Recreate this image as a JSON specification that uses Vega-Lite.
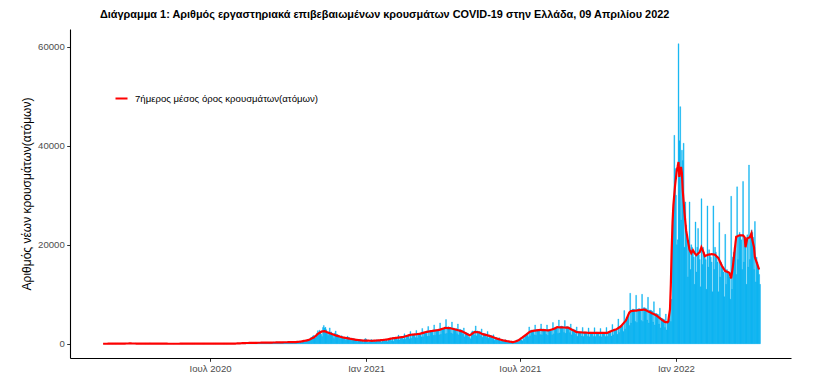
{
"$schema": "https://vega.github.io/schema/vega-lite/v6.json",
"width": 721, "height": 329,
"autosize": "none",
"padding": {"left": 70, "top": 29, "right": 33, "bottom": 16},
"background": "white",
"config": {"view": {"stroke": null}, "font": "Liberation Sans"},
"title": {"text": "Διάγραμμα 1: Αριθμός εργαστηριακά επιβεβαιωμένων κρουσμάτων COVID-19 στην Ελλάδα, 09 Απριλίου 2022", "anchor": "start", "frame": "group", "dx": 30, "fontSize": 10.9, "fontWeight": "bold", "color": "black", "offset": 9},
"datasets": {
"daily": [
{"d":"2020-02-26","n":1},{"d":"2020-02-27","n":1},{"d":"2020-02-28","n":2},{"d":"2020-02-29","n":0},
{"d":"2020-03-01","n":3},{"d":"2020-03-02","n":0},{"d":"2020-03-03","n":0},{"d":"2020-03-04","n":2},{"d":"2020-03-05","n":22},{"d":"2020-03-06","n":14},{"d":"2020-03-07","n":21},{"d":"2020-03-08","n":7},{"d":"2020-03-09","n":11},{"d":"2020-03-10","n":16},{"d":"2020-03-11","n":10},{"d":"2020-03-12","n":18},{"d":"2020-03-13","n":73},{"d":"2020-03-14","n":38},{"d":"2020-03-15","n":35},{"d":"2020-03-16","n":21},{"d":"2020-03-17","n":56},{"d":"2020-03-18","n":31},{"d":"2020-03-19","n":46},{"d":"2020-03-20","n":31},{"d":"2020-03-21","n":35},{"d":"2020-03-22","n":94},{"d":"2020-03-23","n":71},{"d":"2020-03-24","n":48},{"d":"2020-03-25","n":48},{"d":"2020-03-26","n":78},{"d":"2020-03-27","n":71},{"d":"2020-03-28","n":74},{"d":"2020-03-29","n":64},{"d":"2020-03-30","n":61},{"d":"2020-03-31","n":102},
{"d":"2020-04-01","n":53},{"d":"2020-04-02","n":29},{"d":"2020-04-03","n":129},{"d":"2020-04-04","n":62},{"d":"2020-04-05","n":58},{"d":"2020-04-06","n":20},{"d":"2020-04-07","n":62},{"d":"2020-04-08","n":73},{"d":"2020-04-09","n":38},{"d":"2020-04-10","n":20},{"d":"2020-04-11","n":40},{"d":"2020-04-12","n":43},{"d":"2020-04-13","n":19},{"d":"2020-04-14","n":25},{"d":"2020-04-15","n":25},{"d":"2020-04-16","n":34},{"d":"2020-04-17","n":16},{"d":"2020-04-18","n":11},{"d":"2020-04-19","n":15},{"d":"2020-04-20","n":156},{"d":"2020-04-21","n":87},{"d":"2020-04-22","n":23},{"d":"2020-04-23","n":16},{"d":"2020-04-24","n":10},{"d":"2020-04-25","n":15},{"d":"2020-04-26","n":17},{"d":"2020-04-27","n":9},{"d":"2020-04-28","n":12},{"d":"2020-04-29","n":14},{"d":"2020-04-30","n":12},
{"d":"2020-05-01","n":11},{"d":"2020-05-02","n":10},{"d":"2020-05-03","n":3},{"d":"2020-05-04","n":0},{"d":"2020-05-05","n":6},{"d":"2020-05-06","n":12},{"d":"2020-05-07","n":13},{"d":"2020-05-08","n":15},{"d":"2020-05-09","n":8},{"d":"2020-05-10","n":4},{"d":"2020-05-11","n":4},{"d":"2020-05-12","n":14},{"d":"2020-05-13","n":10},{"d":"2020-05-14","n":17},{"d":"2020-05-15","n":7},{"d":"2020-05-16","n":10},{"d":"2020-05-17","n":9},{"d":"2020-05-18","n":4},{"d":"2020-05-19","n":6},{"d":"2020-05-20","n":9},{"d":"2020-05-21","n":12},{"d":"2020-05-22","n":3},{"d":"2020-05-23","n":2},{"d":"2020-05-24","n":5},{"d":"2020-05-25","n":1},{"d":"2020-05-26","n":9},{"d":"2020-05-27","n":3},{"d":"2020-05-28","n":8},{"d":"2020-05-29","n":2},{"d":"2020-05-30","n":11},{"d":"2020-05-31","n":7},
{"d":"2020-06-01","n":8},{"d":"2020-06-02","n":9},{"d":"2020-06-03","n":4},{"d":"2020-06-04","n":25},{"d":"2020-06-05","n":10},{"d":"2020-06-06","n":5},{"d":"2020-06-07","n":4},{"d":"2020-06-08","n":1},{"d":"2020-06-09","n":15},{"d":"2020-06-10","n":2},{"d":"2020-06-11","n":3},{"d":"2020-06-12","n":12},{"d":"2020-06-13","n":31},{"d":"2020-06-14","n":29},{"d":"2020-06-15","n":12},{"d":"2020-06-16","n":9},{"d":"2020-06-17","n":19},{"d":"2020-06-18","n":13},{"d":"2020-06-19","n":16},{"d":"2020-06-20","n":8},{"d":"2020-06-21","n":28},{"d":"2020-06-22","n":8},{"d":"2020-06-23","n":12},{"d":"2020-06-24","n":17},{"d":"2020-06-25","n":14},{"d":"2020-06-26","n":23},{"d":"2020-06-27","n":10},{"d":"2020-06-28","n":15},{"d":"2020-06-29","n":9},{"d":"2020-06-30","n":9},
{"d":"2020-07-01","n":20},{"d":"2020-07-02","n":7},{"d":"2020-07-03","n":16},{"d":"2020-07-04","n":20},{"d":"2020-07-05","n":19},{"d":"2020-07-06","n":8},{"d":"2020-07-07","n":25},{"d":"2020-07-08","n":21},{"d":"2020-07-09","n":12},{"d":"2020-07-10","n":19},{"d":"2020-07-11","n":27},{"d":"2020-07-12","n":35},{"d":"2020-07-13","n":17},{"d":"2020-07-14","n":22},{"d":"2020-07-15","n":19},{"d":"2020-07-16","n":21},{"d":"2020-07-17","n":16},{"d":"2020-07-18","n":17},{"d":"2020-07-19","n":30},{"d":"2020-07-20","n":15},{"d":"2020-07-21","n":23},{"d":"2020-07-22","n":28},{"d":"2020-07-23","n":33},{"d":"2020-07-24","n":19},{"d":"2020-07-25","n":31},{"d":"2020-07-26","n":38},{"d":"2020-07-27","n":21},{"d":"2020-07-28","n":25},{"d":"2020-07-29","n":36},{"d":"2020-07-30","n":57},{"d":"2020-07-31","n":42},
{"d":"2020-08-01","n":110},{"d":"2020-08-02","n":75},{"d":"2020-08-03","n":41},{"d":"2020-08-04","n":78},{"d":"2020-08-05","n":121},{"d":"2020-08-06","n":125},{"d":"2020-08-07","n":124},{"d":"2020-08-08","n":151},{"d":"2020-08-09","n":203},{"d":"2020-08-10","n":94},{"d":"2020-08-11","n":262},{"d":"2020-08-12","n":139},{"d":"2020-08-13","n":168},{"d":"2020-08-14","n":233},{"d":"2020-08-15","n":230},{"d":"2020-08-16","n":217},{"d":"2020-08-17","n":211},{"d":"2020-08-18","n":269},{"d":"2020-08-19","n":180},{"d":"2020-08-20","n":234},{"d":"2020-08-21","n":165},{"d":"2020-08-22","n":228},{"d":"2020-08-23","n":284},{"d":"2020-08-24","n":125},{"d":"2020-08-25","n":123},{"d":"2020-08-26","n":168},{"d":"2020-08-27","n":226},{"d":"2020-08-28","n":198},{"d":"2020-08-29","n":183},{"d":"2020-08-30","n":158},{"d":"2020-08-31","n":152},
{"d":"2020-09-01","n":209},{"d":"2020-09-02","n":204},{"d":"2020-09-03","n":221},{"d":"2020-09-04","n":141},{"d":"2020-09-05","n":262},{"d":"2020-09-06","n":230},{"d":"2020-09-07","n":168},{"d":"2020-09-08","n":185},{"d":"2020-09-09","n":272},{"d":"2020-09-10","n":247},{"d":"2020-09-11","n":250},{"d":"2020-09-12","n":181},{"d":"2020-09-13","n":372},{"d":"2020-09-14","n":250},{"d":"2020-09-15","n":295},{"d":"2020-09-16","n":338},{"d":"2020-09-17","n":316},{"d":"2020-09-18","n":311},{"d":"2020-09-19","n":251},{"d":"2020-09-20","n":362},{"d":"2020-09-21","n":242},{"d":"2020-09-22","n":253},{"d":"2020-09-23","n":302},{"d":"2020-09-24","n":325},{"d":"2020-09-25","n":311},{"d":"2020-09-26","n":221},{"d":"2020-09-27","n":280},{"d":"2020-09-28","n":251},{"d":"2020-09-29","n":342},{"d":"2020-09-30","n":407},
{"d":"2020-10-01","n":460},{"d":"2020-10-02","n":298},{"d":"2020-10-03","n":216},{"d":"2020-10-04","n":245},{"d":"2020-10-05","n":234},{"d":"2020-10-06","n":371},{"d":"2020-10-07","n":384},{"d":"2020-10-08","n":456},{"d":"2020-10-09","n":368},{"d":"2020-10-10","n":247},{"d":"2020-10-11","n":434},{"d":"2020-10-12","n":270},{"d":"2020-10-13","n":337},{"d":"2020-10-14","n":350},{"d":"2020-10-15","n":419},{"d":"2020-10-16","n":507},{"d":"2020-10-17","n":460},{"d":"2020-10-18","n":599},{"d":"2020-10-19","n":388},{"d":"2020-10-20","n":462},{"d":"2020-10-21","n":667},{"d":"2020-10-22","n":658},{"d":"2020-10-23","n":882},{"d":"2020-10-24","n":935},{"d":"2020-10-25","n":748},{"d":"2020-10-26","n":865},{"d":"2020-10-27","n":1259},{"d":"2020-10-28","n":1211},{"d":"2020-10-29","n":1547},{"d":"2020-10-30","n":1690},{"d":"2020-10-31","n":1494},
{"d":"2020-11-01","n":1151},{"d":"2020-11-02","n":1509},{"d":"2020-11-03","n":2166},{"d":"2020-11-04","n":2646},{"d":"2020-11-05","n":2077},{"d":"2020-11-06","n":2752},{"d":"2020-11-07","n":2448},{"d":"2020-11-08","n":1917},{"d":"2020-11-09","n":1460},{"d":"2020-11-10","n":3300},{"d":"2020-11-11","n":3700},{"d":"2020-11-12","n":3200},{"d":"2020-11-13","n":3316},{"d":"2020-11-14","n":2835},{"d":"2020-11-15","n":2198},{"d":"2020-11-16","n":1695},{"d":"2020-11-17","n":2152},{"d":"2020-11-18","n":3209},{"d":"2020-11-19","n":2311},{"d":"2020-11-20","n":2395},{"d":"2020-11-21","n":2018},{"d":"2020-11-22","n":1498},{"d":"2020-11-23","n":1044},{"d":"2020-11-24","n":2152},{"d":"2020-11-25","n":2581},{"d":"2020-11-26","n":1939},{"d":"2020-11-27","n":1881},{"d":"2020-11-28","n":1747},{"d":"2020-11-29","n":1300},{"d":"2020-11-30","n":1044},
{"d":"2020-12-01","n":1380},{"d":"2020-12-02","n":1640},{"d":"2020-12-03","n":1395},{"d":"2020-12-04","n":1336},{"d":"2020-12-05","n":1172},{"d":"2020-12-06","n":1256},{"d":"2020-12-07","n":733},{"d":"2020-12-08","n":1335},{"d":"2020-12-09","n":1531},{"d":"2020-12-10","n":1259},{"d":"2020-12-11","n":1246},{"d":"2020-12-12","n":852},{"d":"2020-12-13","n":1060},{"d":"2020-12-14","n":629},{"d":"2020-12-15","n":1108},{"d":"2020-12-16","n":1043},{"d":"2020-12-17","n":935},{"d":"2020-12-18","n":863},{"d":"2020-12-19","n":730},{"d":"2020-12-20","n":794},{"d":"2020-12-21","n":474},{"d":"2020-12-22","n":888},{"d":"2020-12-23","n":868},{"d":"2020-12-24","n":891},{"d":"2020-12-25","n":628},{"d":"2020-12-26","n":416},{"d":"2020-12-27","n":576},{"d":"2020-12-28","n":262},{"d":"2020-12-29","n":921},{"d":"2020-12-30","n":1047},{"d":"2020-12-31","n":950},
{"d":"2021-01-01","n":507},{"d":"2021-01-02","n":262},{"d":"2021-01-03","n":341},{"d":"2021-01-04","n":406},{"d":"2021-01-05","n":716},{"d":"2021-01-06","n":861},{"d":"2021-01-07","n":755},{"d":"2021-01-08","n":718},{"d":"2021-01-09","n":580},{"d":"2021-01-10","n":710},{"d":"2021-01-11","n":360},{"d":"2021-01-12","n":805},{"d":"2021-01-13","n":732},{"d":"2021-01-14","n":620},{"d":"2021-01-15","n":787},{"d":"2021-01-16","n":622},{"d":"2021-01-17","n":865},{"d":"2021-01-18","n":317},{"d":"2021-01-19","n":589},{"d":"2021-01-20","n":735},{"d":"2021-01-21","n":806},{"d":"2021-01-22","n":690},{"d":"2021-01-23","n":555},{"d":"2021-01-24","n":970},{"d":"2021-01-25","n":429},{"d":"2021-01-26","n":881},{"d":"2021-01-27","n":892},{"d":"2021-01-28","n":851},{"d":"2021-01-29","n":940},{"d":"2021-01-30","n":623},{"d":"2021-01-31","n":1250},
{"d":"2021-02-01","n":531},{"d":"2021-02-02","n":1107},{"d":"2021-02-03","n":1155},{"d":"2021-02-04","n":1108},{"d":"2021-02-05","n":1196},{"d":"2021-02-06","n":823},{"d":"2021-02-07","n":1750},{"d":"2021-02-08","n":760},{"d":"2021-02-09","n":1350},{"d":"2021-02-10","n":1450},{"d":"2021-02-11","n":1300},{"d":"2021-02-12","n":1350},{"d":"2021-02-13","n":900},{"d":"2021-02-14","n":2000},{"d":"2021-02-15","n":900},{"d":"2021-02-16","n":1500},{"d":"2021-02-17","n":1700},{"d":"2021-02-18","n":1600},{"d":"2021-02-19","n":1550},{"d":"2021-02-20","n":1000},{"d":"2021-02-21","n":2500},{"d":"2021-02-22","n":1100},{"d":"2021-02-23","n":1900},{"d":"2021-02-24","n":1950},{"d":"2021-02-25","n":1850},{"d":"2021-02-26","n":1850},{"d":"2021-02-27","n":1250},{"d":"2021-02-28","n":2700},
{"d":"2021-03-01","n":1200},{"d":"2021-03-02","n":2050},{"d":"2021-03-03","n":2100},{"d":"2021-03-04","n":2050},{"d":"2021-03-05","n":2000},{"d":"2021-03-06","n":1400},{"d":"2021-03-07","n":3100},{"d":"2021-03-08","n":1400},{"d":"2021-03-09","n":2400},{"d":"2021-03-10","n":2350},{"d":"2021-03-11","n":2300},{"d":"2021-03-12","n":2250},{"d":"2021-03-13","n":1500},{"d":"2021-03-14","n":3500},{"d":"2021-03-15","n":1550},{"d":"2021-03-16","n":2700},{"d":"2021-03-17","n":2650},{"d":"2021-03-18","n":2600},{"d":"2021-03-19","n":2550},{"d":"2021-03-20","n":1700},{"d":"2021-03-21","n":3800},{"d":"2021-03-22","n":1700},{"d":"2021-03-23","n":2800},{"d":"2021-03-24","n":2850},{"d":"2021-03-25","n":2750},{"d":"2021-03-26","n":2750},{"d":"2021-03-27","n":1800},{"d":"2021-03-28","n":4200},{"d":"2021-03-29","n":1900},{"d":"2021-03-30","n":3100},{"d":"2021-03-31","n":3150},
{"d":"2021-04-01","n":3050},{"d":"2021-04-02","n":3000},{"d":"2021-04-03","n":2000},{"d":"2021-04-04","n":4900},{"d":"2021-04-05","n":2100},{"d":"2021-04-06","n":3400},{"d":"2021-04-07","n":3450},{"d":"2021-04-08","n":3300},{"d":"2021-04-09","n":3300},{"d":"2021-04-10","n":2200},{"d":"2021-04-11","n":4400},{"d":"2021-04-12","n":2000},{"d":"2021-04-13","n":3200},{"d":"2021-04-14","n":3100},{"d":"2021-04-15","n":3000},{"d":"2021-04-16","n":3050},{"d":"2021-04-17","n":2050},{"d":"2021-04-18","n":4000},{"d":"2021-04-19","n":1800},{"d":"2021-04-20","n":2850},{"d":"2021-04-21","n":2900},{"d":"2021-04-22","n":2800},{"d":"2021-04-23","n":2700},{"d":"2021-04-24","n":1900},{"d":"2021-04-25","n":3200},{"d":"2021-04-26","n":1400},{"d":"2021-04-27","n":2200},{"d":"2021-04-28","n":2250},{"d":"2021-04-29","n":2150},{"d":"2021-04-30","n":2100},
{"d":"2021-05-01","n":1300},{"d":"2021-05-02","n":1300},{"d":"2021-05-03","n":1000},{"d":"2021-05-04","n":2300},{"d":"2021-05-05","n":2600},{"d":"2021-05-06","n":2500},{"d":"2021-05-07","n":2450},{"d":"2021-05-08","n":1700},{"d":"2021-05-09","n":3600},{"d":"2021-05-10","n":1600},{"d":"2021-05-11","n":2600},{"d":"2021-05-12","n":2500},{"d":"2021-05-13","n":2400},{"d":"2021-05-14","n":2450},{"d":"2021-05-15","n":1600},{"d":"2021-05-16","n":3000},{"d":"2021-05-17","n":1300},{"d":"2021-05-18","n":2100},{"d":"2021-05-19","n":2050},{"d":"2021-05-20","n":2000},{"d":"2021-05-21","n":1950},{"d":"2021-05-22","n":1300},{"d":"2021-05-23","n":2500},{"d":"2021-05-24","n":1100},{"d":"2021-05-25","n":1750},{"d":"2021-05-26","n":1700},{"d":"2021-05-27","n":1650},{"d":"2021-05-28","n":1600},{"d":"2021-05-29","n":1050},{"d":"2021-05-30","n":1800},{"d":"2021-05-31","n":700},
{"d":"2021-06-01","n":1250},{"d":"2021-06-02","n":1250},{"d":"2021-06-03","n":1200},{"d":"2021-06-04","n":1150},{"d":"2021-06-05","n":750},{"d":"2021-06-06","n":1200},{"d":"2021-06-07","n":500},{"d":"2021-06-08","n":850},{"d":"2021-06-09","n":850},{"d":"2021-06-10","n":800},{"d":"2021-06-11","n":780},{"d":"2021-06-12","n":500},{"d":"2021-06-13","n":800},{"d":"2021-06-14","n":300},{"d":"2021-06-15","n":580},{"d":"2021-06-16","n":560},{"d":"2021-06-17","n":540},{"d":"2021-06-18","n":520},{"d":"2021-06-19","n":330},{"d":"2021-06-20","n":550},{"d":"2021-06-21","n":200},{"d":"2021-06-22","n":380},{"d":"2021-06-23","n":400},{"d":"2021-06-24","n":380},{"d":"2021-06-25","n":420},{"d":"2021-06-26","n":300},{"d":"2021-06-27","n":800},{"d":"2021-06-28","n":380},{"d":"2021-06-29","n":700},{"d":"2021-06-30","n":750},
{"d":"2021-07-01","n":780},{"d":"2021-07-02","n":820},{"d":"2021-07-03","n":600},{"d":"2021-07-04","n":1500},{"d":"2021-07-05","n":900},{"d":"2021-07-06","n":1600},{"d":"2021-07-07","n":1750},{"d":"2021-07-08","n":1850},{"d":"2021-07-09","n":2000},{"d":"2021-07-10","n":1400},{"d":"2021-07-11","n":3400},{"d":"2021-07-12","n":1600},{"d":"2021-07-13","n":2700},{"d":"2021-07-14","n":2800},{"d":"2021-07-15","n":2700},{"d":"2021-07-16","n":2650},{"d":"2021-07-17","n":1800},{"d":"2021-07-18","n":3800},{"d":"2021-07-19","n":1700},{"d":"2021-07-20","n":2900},{"d":"2021-07-21","n":2900},{"d":"2021-07-22","n":2800},{"d":"2021-07-23","n":2750},{"d":"2021-07-24","n":1850},{"d":"2021-07-25","n":4000},{"d":"2021-07-26","n":1800},{"d":"2021-07-27","n":3000},{"d":"2021-07-28","n":3000},{"d":"2021-07-29","n":2900},{"d":"2021-07-30","n":2850},{"d":"2021-07-31","n":1900},
{"d":"2021-08-01","n":3800},{"d":"2021-08-02","n":1700},{"d":"2021-08-03","n":2850},{"d":"2021-08-04","n":2800},{"d":"2021-08-05","n":2750},{"d":"2021-08-06","n":2700},{"d":"2021-08-07","n":1800},{"d":"2021-08-08","n":4300},{"d":"2021-08-09","n":2000},{"d":"2021-08-10","n":3250},{"d":"2021-08-11","n":3300},{"d":"2021-08-12","n":3200},{"d":"2021-08-13","n":3200},{"d":"2021-08-14","n":2100},{"d":"2021-08-15","n":4800},{"d":"2021-08-16","n":2200},{"d":"2021-08-17","n":3500},{"d":"2021-08-18","n":3600},{"d":"2021-08-19","n":3500},{"d":"2021-08-20","n":3450},{"d":"2021-08-21","n":2300},{"d":"2021-08-22","n":4700},{"d":"2021-08-23","n":2150},{"d":"2021-08-24","n":3450},{"d":"2021-08-25","n":3500},{"d":"2021-08-26","n":3400},{"d":"2021-08-27","n":3350},{"d":"2021-08-28","n":2250},{"d":"2021-08-29","n":4000},{"d":"2021-08-30","n":1800},{"d":"2021-08-31","n":2950},
{"d":"2021-09-01","n":2950},{"d":"2021-09-02","n":2850},{"d":"2021-09-03","n":2800},{"d":"2021-09-04","n":1900},{"d":"2021-09-05","n":3400},{"d":"2021-09-06","n":1500},{"d":"2021-09-07","n":2450},{"d":"2021-09-08","n":2450},{"d":"2021-09-09","n":2350},{"d":"2021-09-10","n":2300},{"d":"2021-09-11","n":1550},{"d":"2021-09-12","n":3300},{"d":"2021-09-13","n":1450},{"d":"2021-09-14","n":2400},{"d":"2021-09-15","n":2400},{"d":"2021-09-16","n":2300},{"d":"2021-09-17","n":2250},{"d":"2021-09-18","n":1500},{"d":"2021-09-19","n":3200},{"d":"2021-09-20","n":1400},{"d":"2021-09-21","n":2350},{"d":"2021-09-22","n":2350},{"d":"2021-09-23","n":2250},{"d":"2021-09-24","n":2250},{"d":"2021-09-25","n":1450},{"d":"2021-09-26","n":3250},{"d":"2021-09-27","n":1450},{"d":"2021-09-28","n":2350},{"d":"2021-09-29","n":2350},{"d":"2021-09-30","n":2300},
{"d":"2021-10-01","n":2250},{"d":"2021-10-02","n":1500},{"d":"2021-10-03","n":3100},{"d":"2021-10-04","n":1400},{"d":"2021-10-05","n":2300},{"d":"2021-10-06","n":2300},{"d":"2021-10-07","n":2200},{"d":"2021-10-08","n":2200},{"d":"2021-10-09","n":1450},{"d":"2021-10-10","n":3300},{"d":"2021-10-11","n":1500},{"d":"2021-10-12","n":2400},{"d":"2021-10-13","n":2450},{"d":"2021-10-14","n":2350},{"d":"2021-10-15","n":2300},{"d":"2021-10-16","n":1550},{"d":"2021-10-17","n":3900},{"d":"2021-10-18","n":1800},{"d":"2021-10-19","n":2800},{"d":"2021-10-20","n":2900},{"d":"2021-10-21","n":2850},{"d":"2021-10-22","n":2900},{"d":"2021-10-23","n":1900},{"d":"2021-10-24","n":5000},{"d":"2021-10-25","n":2300},{"d":"2021-10-26","n":3500},{"d":"2021-10-27","n":3600},{"d":"2021-10-28","n":3700},{"d":"2021-10-29","n":3800},{"d":"2021-10-30","n":2500},{"d":"2021-10-31","n":6700},
{"d":"2021-11-01","n":3000},{"d":"2021-11-02","n":4800},{"d":"2021-11-03","n":5100},{"d":"2021-11-04","n":5400},{"d":"2021-11-05","n":5700},{"d":"2021-11-06","n":3700},{"d":"2021-11-07","n":10200},{"d":"2021-11-08","n":4200},{"d":"2021-11-09","n":6800},{"d":"2021-11-10","n":7000},{"d":"2021-11-11","n":7000},{"d":"2021-11-12","n":6900},{"d":"2021-11-13","n":4500},{"d":"2021-11-14","n":9800},{"d":"2021-11-15","n":4300},{"d":"2021-11-16","n":7000},{"d":"2021-11-17","n":7100},{"d":"2021-11-18","n":7100},{"d":"2021-11-19","n":7000},{"d":"2021-11-20","n":4700},{"d":"2021-11-21","n":10000},{"d":"2021-11-22","n":4500},{"d":"2021-11-23","n":7300},{"d":"2021-11-24","n":7300},{"d":"2021-11-25","n":7200},{"d":"2021-11-26","n":7100},{"d":"2021-11-27","n":4800},{"d":"2021-11-28","n":9400},{"d":"2021-11-29","n":4200},{"d":"2021-11-30","n":6800},
{"d":"2021-12-01","n":6800},{"d":"2021-12-02","n":6700},{"d":"2021-12-03","n":6600},{"d":"2021-12-04","n":4400},{"d":"2021-12-05","n":8500},{"d":"2021-12-06","n":3800},{"d":"2021-12-07","n":6100},{"d":"2021-12-08","n":6100},{"d":"2021-12-09","n":6000},{"d":"2021-12-10","n":5900},{"d":"2021-12-11","n":4000},{"d":"2021-12-12","n":7200},{"d":"2021-12-13","n":3200},{"d":"2021-12-14","n":5200},{"d":"2021-12-15","n":5100},{"d":"2021-12-16","n":5000},{"d":"2021-12-17","n":4900},{"d":"2021-12-18","n":3300},{"d":"2021-12-19","n":6000},{"d":"2021-12-20","n":2800},{"d":"2021-12-21","n":4300},{"d":"2021-12-22","n":4600},{"d":"2021-12-23","n":5000},{"d":"2021-12-24","n":7800},{"d":"2021-12-25","n":4500},{"d":"2021-12-26","n":9000},{"d":"2021-12-27","n":24000},{"d":"2021-12-28","n":27600},{"d":"2021-12-29","n":42100},{"d":"2021-12-30","n":35400},{"d":"2021-12-31","n":30000},
{"d":"2022-01-01","n":20000},{"d":"2022-01-02","n":21000},{"d":"2022-01-03","n":60600},{"d":"2022-01-04","n":41000},{"d":"2022-01-05","n":47900},{"d":"2022-01-06","n":25000},{"d":"2022-01-07","n":39100},{"d":"2022-01-08","n":37000},{"d":"2022-01-09","n":40500},{"d":"2022-01-10","n":19500},{"d":"2022-01-11","n":28650},{"d":"2022-01-12","n":24000},{"d":"2022-01-13","n":22000},{"d":"2022-01-14","n":13500},{"d":"2022-01-15","n":20000},{"d":"2022-01-16","n":28650},{"d":"2022-01-17","n":15000},{"d":"2022-01-18","n":20000},{"d":"2022-01-19","n":19500},{"d":"2022-01-20","n":18500},{"d":"2022-01-21","n":17500},{"d":"2022-01-22","n":12000},{"d":"2022-01-23","n":24600},{"d":"2022-01-24","n":14500},{"d":"2022-01-25","n":19500},{"d":"2022-01-26","n":23300},{"d":"2022-01-27","n":18000},{"d":"2022-01-28","n":17000},{"d":"2022-01-29","n":11500},{"d":"2022-01-30","n":29300},{"d":"2022-01-31","n":16000},
{"d":"2022-02-01","n":19500},{"d":"2022-02-02","n":18500},{"d":"2022-02-03","n":17500},{"d":"2022-02-04","n":17000},{"d":"2022-02-05","n":11000},{"d":"2022-02-06","n":27850},{"d":"2022-02-07","n":15500},{"d":"2022-02-08","n":19000},{"d":"2022-02-09","n":18000},{"d":"2022-02-10","n":17500},{"d":"2022-02-11","n":16500},{"d":"2022-02-12","n":10500},{"d":"2022-02-13","n":27850},{"d":"2022-02-14","n":15000},{"d":"2022-02-15","n":19500},{"d":"2022-02-16","n":18500},{"d":"2022-02-17","n":17500},{"d":"2022-02-18","n":16500},{"d":"2022-02-19","n":10500},{"d":"2022-02-20","n":24500},{"d":"2022-02-21","n":13500},{"d":"2022-02-22","n":16500},{"d":"2022-02-23","n":16000},{"d":"2022-02-24","n":15500},{"d":"2022-02-25","n":14500},{"d":"2022-02-26","n":9500},{"d":"2022-02-27","n":22100},{"d":"2022-02-28","n":12000},
{"d":"2022-03-01","n":15000},{"d":"2022-03-02","n":14500},{"d":"2022-03-03","n":14000},{"d":"2022-03-04","n":13500},{"d":"2022-03-05","n":9000},{"d":"2022-03-06","n":29800},{"d":"2022-03-07","n":11000},{"d":"2022-03-08","n":17500},{"d":"2022-03-09","n":18500},{"d":"2022-03-10","n":19500},{"d":"2022-03-11","n":20000},{"d":"2022-03-12","n":14000},{"d":"2022-03-13","n":31700},{"d":"2022-03-14","n":17000},{"d":"2022-03-15","n":21500},{"d":"2022-03-16","n":22500},{"d":"2022-03-17","n":22000},{"d":"2022-03-18","n":21000},{"d":"2022-03-19","n":15000},{"d":"2022-03-20","n":32800},{"d":"2022-03-21","n":16500},{"d":"2022-03-22","n":21000},{"d":"2022-03-23","n":21500},{"d":"2022-03-24","n":12000},{"d":"2022-03-25","n":22000},{"d":"2022-03-26","n":15500},{"d":"2022-03-27","n":36100},{"d":"2022-03-28","n":17000},{"d":"2022-03-29","n":22000},{"d":"2022-03-30","n":23000},{"d":"2022-03-31","n":22500},
{"d":"2022-04-01","n":21500},{"d":"2022-04-02","n":15000},{"d":"2022-04-03","n":24700},{"d":"2022-04-04","n":12500},{"d":"2022-04-05","n":17500},{"d":"2022-04-06","n":16500},{"d":"2022-04-07","n":15500},{"d":"2022-04-08","n":14000},{"d":"2022-04-09","n":12000}
],
"ma": [
{"d":"2020-02-26","m":1},{"d":"2020-03-15","m":30},{"d":"2020-03-29","m":65},{"d":"2020-04-12","m":35},{"d":"2020-04-26","m":25},{"d":"2020-05-15","m":8},{"d":"2020-06-15","m":15},{"d":"2020-07-10","m":20},{"d":"2020-07-31","m":45},{"d":"2020-08-12","m":150},{"d":"2020-08-25","m":200},{"d":"2020-09-10","m":240},{"d":"2020-09-25","m":300},{"d":"2020-10-10","m":340},{"d":"2020-10-16","m":450},{"d":"2020-10-25","m":750},{"d":"2020-11-01","m":1340},{"d":"2020-11-05","m":2000},{"d":"2020-11-10","m":2500},{"d":"2020-11-13","m":2550},{"d":"2020-11-18","m":2200},{"d":"2020-11-26","m":1700},{"d":"2020-12-04","m":1300},{"d":"2020-12-12","m":1050},{"d":"2020-12-20","m":800},{"d":"2020-12-28","m":650},
{"d":"2021-01-08","m":600},{"d":"2021-01-17","m":700},{"d":"2021-01-25","m":850},{"d":"2021-02-01","m":1100},{"d":"2021-02-08","m":1250},{"d":"2021-02-14","m":1400},{"d":"2021-02-22","m":1800},{"d":"2021-03-05","m":2000},{"d":"2021-03-13","m":2400},{"d":"2021-03-20","m":2600},{"d":"2021-03-28","m":2800},{"d":"2021-04-04","m":3200},{"d":"2021-04-10","m":3150},{"d":"2021-04-17","m":2850},{"d":"2021-04-24","m":2500},{"d":"2021-05-03","m":1700},{"d":"2021-05-09","m":2400},{"d":"2021-05-14","m":2300},{"d":"2021-05-19","m":1900},{"d":"2021-05-27","m":1550},{"d":"2021-06-04","m":1050},{"d":"2021-06-11","m":700},{"d":"2021-06-16","m":530},{"d":"2021-06-23","m":320},{"d":"2021-06-29","m":650},{"d":"2021-07-07","m":1650},{"d":"2021-07-13","m":2450},{"d":"2021-07-18","m":2650},{"d":"2021-07-25","m":2800},{"d":"2021-08-04","m":2700},{"d":"2021-08-10","m":3000},{"d":"2021-08-14","m":3350},{"d":"2021-08-27","m":3250},{"d":"2021-09-01","m":2800},{"d":"2021-09-06","m":2350},{"d":"2021-09-15","m":2250},{"d":"2021-09-22","m":2200},{"d":"2021-10-03","m":2200},{"d":"2021-10-12","m":2200},{"d":"2021-10-18","m":2650},{"d":"2021-10-23","m":2950},{"d":"2021-10-28","m":3500},{"d":"2021-11-03","m":4700},{"d":"2021-11-07","m":6300},{"d":"2021-11-09","m":6600},{"d":"2021-11-15","m":6700},{"d":"2021-11-21","m":6850},{"d":"2021-11-25","m":6900},{"d":"2021-12-01","m":6400},{"d":"2021-12-09","m":5730},{"d":"2021-12-15","m":4900},{"d":"2021-12-19","m":4400},{"d":"2021-12-22","m":4350},{"d":"2021-12-23","m":4500},{"d":"2021-12-24","m":5800},{"d":"2021-12-25","m":7000},{"d":"2021-12-26","m":12000},{"d":"2021-12-27","m":19000},{"d":"2021-12-28","m":24500},{"d":"2021-12-29","m":28000},{"d":"2021-12-31","m":32000},
{"d":"2022-01-02","m":35000},{"d":"2022-01-03","m":35800},{"d":"2022-01-04","m":36700},{"d":"2022-01-05","m":33700},{"d":"2022-01-06","m":35000},{"d":"2022-01-07","m":35700},{"d":"2022-01-08","m":34500},{"d":"2022-01-09","m":31000},{"d":"2022-01-11","m":26600},{"d":"2022-01-13","m":22900},{"d":"2022-01-15","m":20900},{"d":"2022-01-17","m":19000},{"d":"2022-01-19","m":18300},{"d":"2022-01-21","m":18900},{"d":"2022-01-23","m":18300},{"d":"2022-01-25","m":17900},{"d":"2022-01-29","m":18500},{"d":"2022-01-31","m":19500},{"d":"2022-02-02","m":18700},{"d":"2022-02-04","m":17700},{"d":"2022-02-08","m":18000},{"d":"2022-02-12","m":18100},{"d":"2022-02-16","m":18000},{"d":"2022-02-20","m":17300},{"d":"2022-02-24","m":15800},{"d":"2022-02-28","m":14700},{"d":"2022-03-03","m":14500},{"d":"2022-03-05","m":14300},{"d":"2022-03-07","m":13200},{"d":"2022-03-09","m":15500},{"d":"2022-03-11","m":18500},{"d":"2022-03-13","m":21600},{"d":"2022-03-17","m":21900},{"d":"2022-03-21","m":21900},{"d":"2022-03-23","m":21500},{"d":"2022-03-24","m":19500},{"d":"2022-03-26","m":21300},{"d":"2022-03-29","m":21500},{"d":"2022-03-31","m":22300},{"d":"2022-04-01","m":21000},{"d":"2022-04-03","m":19500},{"d":"2022-04-04","m":17500},{"d":"2022-04-06","m":16500},{"d":"2022-04-09","m":15000}
]
},
"layer": [
{
"data": {"name": "daily"},
"mark": {"type": "bar", "color": "#00B0F0", "binSpacing": 0, "stroke": "#00B0F0", "strokeWidth": 0.35},
"encoding": {
"x": {"field": "d", "type": "temporal", "timeUnit": "yearmonthdate",
"scale": {"domain": [{"year": 2020, "month": 1, "date": 18}, {"year": 2022, "month": 5, "date": 16, "hours": 14}]},
"axis": {"title": null, "values": [{"year": 2020, "month": 7, "date": 1}, {"year": 2021, "month": 1, "date": 1}, {"year": 2021, "month": 7, "date": 1}, {"year": 2022, "month": 1, "date": 1}],
"labelExpr": "(month(datum.value) == 0 ? 'Ιαν ' : 'Ιουλ ') + year(datum.value)",
"grid": false, "domainColor": "black", "domainWidth": 1.1, "tickColor": "#333333", "tickSize": 3.3, "labelColor": "#4D4D4D", "labelFontSize": 9.6, "labelPadding": 2, "labelFlush": false}},
"y": {"field": "n", "type": "quantitative",
"scale": {"domain": [-2873, 63580], "nice": false, "zero": false},
"axis": {"title": "Αριθμός νέων κρουσμάτων(ατόμων)", "values": [0, 20000, 40000, 60000], "format": "d", "grid": false, "domainColor": "black", "domainWidth": 1.1, "tickColor": "#333333", "tickSize": 3.3, "labelColor": "#4D4D4D", "labelFontSize": 9.6, "labelPadding": 2.4, "titleFontSize": 12, "titleFontWeight": "normal", "titleColor": "black", "titlePadding": 4}}
}
},
{
"data": {"name": "ma"},
"mark": {"type": "point", "opacity": 0},
"encoding": {
"x": {"field": "d", "type": "temporal"},
"y": {"field": "m", "type": "quantitative"},
"color": {"datum": " ", "scale": {"range": ["#F2F2F2"]},
"legend": {"orient": "none", "legendX": 42.3, "legendY": 61.3, "title": null, "symbolType": "square", "symbolSize": 240, "symbolFillColor": "#F2F2F2", "symbolStrokeColor": "#F2F2F2", "symbolStrokeWidth": 0, "symbolOpacity": 1, "labelFontSize": 1, "padding": 0}}
}
},
{
"data": {"name": "ma"},
"mark": {"type": "line", "strokeWidth": 2.2, "color": "#FF0000"},
"encoding": {
"x": {"field": "d", "type": "temporal"},
"y": {"field": "m", "type": "quantitative"},
"strokeDash": {"datum": "7ήμερος μέσος όρος κρουσμάτων(ατόμων)", "scale": {"range": [[1, 0]]},
"legend": {"orient": "none", "legendX": 44, "legendY": 62, "title": null, "symbolType": "stroke", "symbolStrokeColor": "#FF0000", "symbolStrokeWidth": 2.2, "symbolSize": 144, "labelFontSize": 9.6, "labelColor": "black", "labelOffset": 6, "labelLimit": 0, "padding": 0}}
}
}
]
}
